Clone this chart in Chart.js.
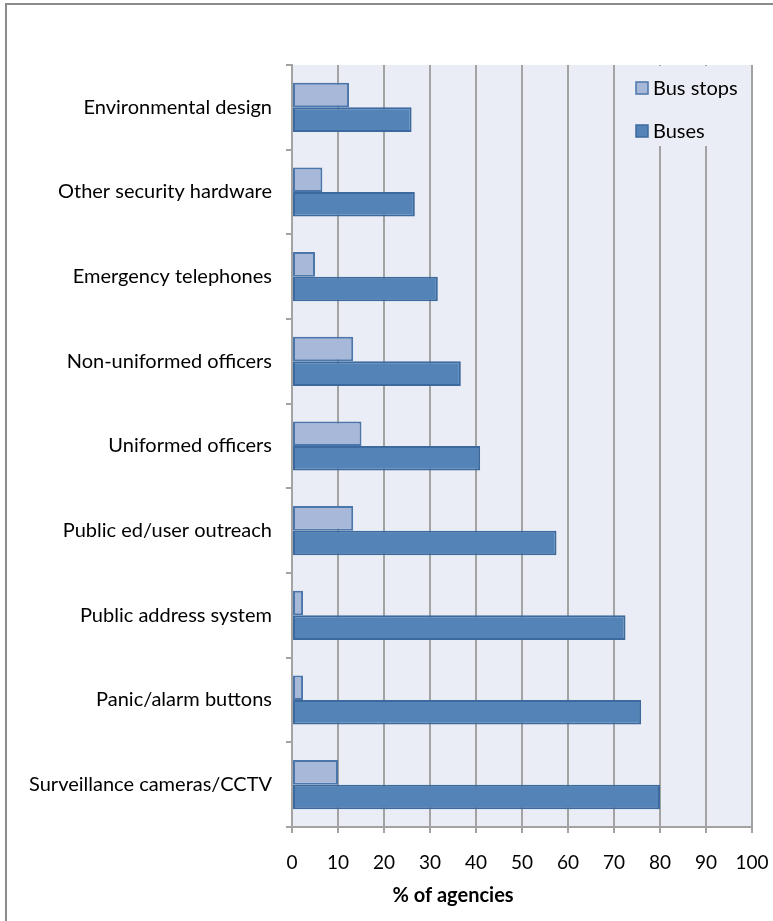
<!DOCTYPE html>
<html>
<head>
<meta charset="utf-8">
<script src="https://cdn.jsdelivr.net/npm/chart.js@4"></script>
<style>
html,body{margin:0;padding:0;background:#fff;}
#wrap{position:relative;width:773px;height:921px;}
</style>
</head>
<body>
<div id="wrap"><canvas id="c" width="773" height="921"></canvas></div>
<script>
const categories = [
  "Environmental design",
  "Other security hardware",
  "Emergency telephones",
  "Non-uniformed officers",
  "Uniformed officers",
  "Public ed/user outreach",
  "Public address system",
  "Panic/alarm buttons",
  "Surveillance cameras/CCTV"
];
const seriesNames = ["Bus stops", "Buses"];
const busStops = [12.4, 6.6, 5.0, 13.3, 15.1, 13.3, 2.4, 2.4, 10.0];
const buses = [26.0, 26.7, 31.7, 36.7, 40.9, 57.5, 72.5, 75.9, 80.0];
const xTicks = [0, 10, 20, 30, 40, 50, 60, 70, 80, 90, 100];
const axisTitle = "% of agencies";

const FONT = "Lato, 'Open Sans', sans-serif";
const PLOT_BG = "#eaedf5";
const GRID = "#a3a3a3";
const colors = [
  {fill: "#a7b8d9", border: "#4a76ab"},
  {fill: "#5383b7", border: "#3d6a9e"}
];

const bgPlugin = {
  id: "bg",
  beforeDraw(chart) {
    const ctx = chart.ctx, a = chart.chartArea;
    ctx.save();
    ctx.fillStyle = "#ffffff";
    ctx.fillRect(0, 0, chart.width, chart.height);
    ctx.strokeStyle = "#8c8c8c";
    ctx.lineWidth = 2;
    ctx.strokeRect(6, 4, 900, 1200);
    ctx.fillStyle = PLOT_BG;
    ctx.fillRect(a.left, a.top, a.right - a.left, a.bottom - a.top);
    ctx.restore();
  },
  afterDraw(chart) {
    const ctx = chart.ctx;
    ctx.save();
    const lx = 630, ly = 66, lw = 117, lh = 80;
    ctx.fillStyle = PLOT_BG;
    ctx.fillRect(lx, ly, lw, lh);
    ctx.font = "20px " + FONT;
    ctx.textBaseline = "middle";
    ctx.textAlign = "left";
    const rows = [88, 131];
    chart.data.datasets.forEach((ds, i) => {
      const y = rows[i];
      ctx.fillStyle = ds.backgroundColor;
      ctx.fillRect(636, y - 6, 12, 12);
      ctx.strokeStyle = ds.borderColor;
      ctx.lineWidth = 1.5;
      ctx.strokeRect(636, y - 6, 12, 12);
      ctx.fillStyle = "#000";
      ctx.fillText(ds.label, 653, y + 1);
    });
    // x-axis title (offset left of plot centre, as in the original)
    ctx.font = "bold 20px " + FONT;
    ctx.textAlign = "center";
    ctx.fillText(axisTitle, 453, 896);
    ctx.restore();
  }
};

new Chart(document.getElementById("c"), {
  type: "bar",
  data: {
    labels: categories,
    datasets: [
      {label: seriesNames[0], data: busStops, backgroundColor: colors[0].fill, borderColor: colors[0].border, borderWidth: 2, borderSkipped: false},
      {label: seriesNames[1], data: buses, backgroundColor: colors[1].fill, borderColor: colors[1].border, borderWidth: 2, borderSkipped: false}
    ]
  },
  options: {
    indexAxis: "y",
    responsive: false,
    animation: false,
    layout: {padding: {top: 65, right: 21, left: 0, bottom: 0}},
    categoryPercentage: 0.58,
    barPercentage: 1.0,
    plugins: {legend: {display: false}, tooltip: {enabled: false}},
    scales: {
      x: {
        min: 0, max: 100,
        afterBuildTicks(scale) { scale.ticks = xTicks.map(v => ({value: v})); },
        ticks: {color: "#000", font: {family: FONT, size: 19}, padding: 18},
        grid: {color: GRID, lineWidth: 2, tickLength: 6, drawTicks: true},
        border: {color: GRID, width: 2},
        title: {display: false, text: axisTitle},
        afterFit(scale) { scale.height = 94; scale.paddingRight = 0; scale.paddingLeft = 0; }
      },
      y: {
        ticks: {color: "#000", font: {family: FONT, size: 20}, padding: 14},
        grid: {drawOnChartArea: false, drawTicks: true, tickLength: 6, color: GRID, lineWidth: 2, offset: true},
        border: {color: GRID, width: 2},
        afterFit(scale) { scale.width = 292; scale.paddingTop = 0; scale.paddingBottom = 0; }
      }
    }
  },
  plugins: [bgPlugin]
});
</script>
</body>
</html>
